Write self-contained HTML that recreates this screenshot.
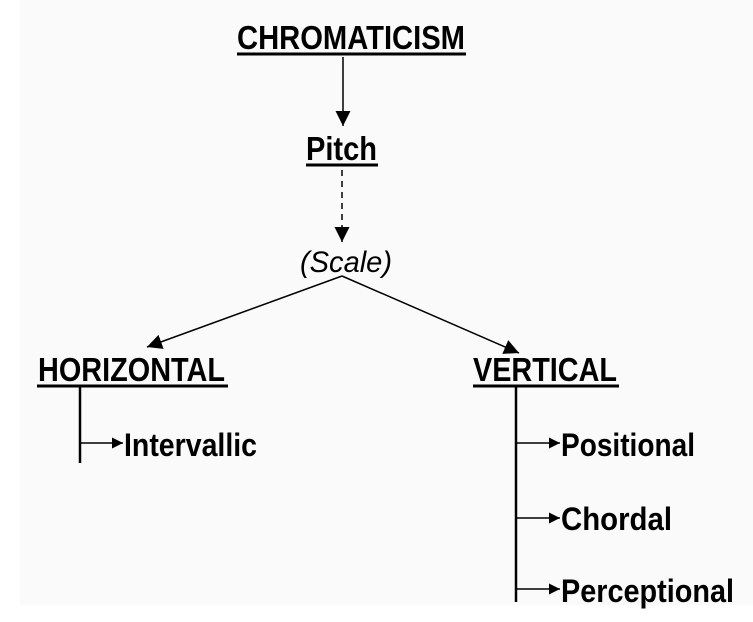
<!DOCTYPE html>
<html><head><meta charset="utf-8"><style>
html,body{margin:0;padding:0;background:#fff;}
svg{display:block;}
text{font-family:"Liberation Sans",Arial,sans-serif;fill:#000;}
</style></head><body>
<svg width="753" height="622" viewBox="0 0 753 622" xmlns="http://www.w3.org/2000/svg">
<rect x="20" y="0" width="733" height="605" fill="#fafafa"/>
<defs>
<marker id="a" viewBox="0 0 10 10" refX="10" refY="5" markerWidth="11" markerHeight="11" markerUnits="userSpaceOnUse" orient="auto">
<path d="M0,0 L10,5 L0,10 z" fill="#000"/></marker>
<marker id="b" viewBox="0 0 10 10" refX="10" refY="5" markerWidth="15" markerHeight="15" markerUnits="userSpaceOnUse" orient="auto">
<path d="M0,0 L10,5 L0,10 z" fill="#000"/></marker>
</defs>
<g font-size="33" font-weight="bold">
<text x="237" y="49" textLength="228" lengthAdjust="spacingAndGlyphs">CHROMATICISM</text>
<text x="306" y="160" textLength="71" lengthAdjust="spacingAndGlyphs">Pitch</text>
<text x="38" y="381" textLength="187" lengthAdjust="spacingAndGlyphs">HORIZONTAL</text>
<text x="473" y="381" textLength="144" lengthAdjust="spacingAndGlyphs">VERTICAL</text>
</g>
<g font-size="32" font-weight="bold">
<text x="124" y="456" textLength="133" lengthAdjust="spacingAndGlyphs">Intervallic</text>
<text x="561" y="456" textLength="134" lengthAdjust="spacingAndGlyphs">Positional</text>
<text x="561" y="530" textLength="111" lengthAdjust="spacingAndGlyphs">Chordal</text>
<text x="561" y="602" textLength="173" lengthAdjust="spacingAndGlyphs">Perceptional</text>
</g>
<text x="300" y="272" font-size="30" font-style="italic" textLength="92" lengthAdjust="spacingAndGlyphs">(Scale)</text>
<g stroke="#000" fill="none">
<line x1="237" y1="54" x2="466" y2="54" stroke-width="3"/>
<line x1="306" y1="165" x2="378" y2="165" stroke-width="3"/>
<line x1="37" y1="386" x2="228" y2="386" stroke-width="3"/>
<line x1="473" y1="386" x2="619" y2="386" stroke-width="3"/>
<line x1="343" y1="57" x2="343" y2="126" stroke-width="1.5" marker-end="url(#b)"/>
<line x1="342" y1="170" x2="342" y2="242" stroke-width="1.5" stroke-dasharray="6,5" marker-end="url(#b)"/>
<line x1="342" y1="276" x2="147" y2="347" stroke-width="1.5" marker-end="url(#b)"/>
<line x1="342" y1="276" x2="519" y2="353" stroke-width="1.5" marker-end="url(#b)"/>
<line x1="80" y1="387" x2="80" y2="463" stroke-width="2.5"/>
<line x1="516" y1="387" x2="516" y2="602" stroke-width="2.5"/>
<line x1="80" y1="443" x2="123" y2="443" stroke-width="1.5" marker-end="url(#a)"/>
<line x1="516" y1="443" x2="560" y2="443" stroke-width="1.5" marker-end="url(#a)"/>
<line x1="516" y1="518" x2="560" y2="518" stroke-width="1.5" marker-end="url(#a)"/>
<line x1="516" y1="589" x2="560" y2="589" stroke-width="1.5" marker-end="url(#a)"/>
</g>
</svg>
</body></html>
